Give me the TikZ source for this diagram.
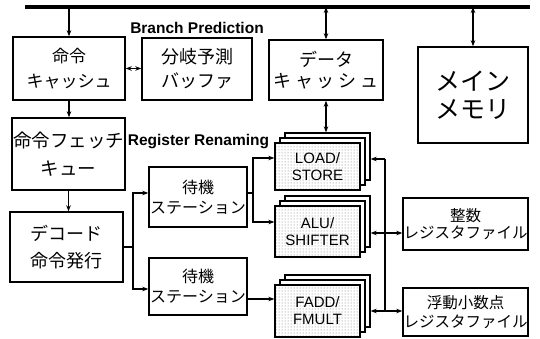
\documentclass[tikz,border=0pt]{standalone}
\usepackage{fontspec}
\setmainfont{Liberation Sans}
\newfontfamily\jp{Noto Sans CJK JP}
\usetikzlibrary{arrows.meta,patterns}
\newcommand{\fs}[2]{\fontsize{#1}{#2}\selectfont}
\begin{document}
\begin{tikzpicture}[x=1pt,y=-1pt,
  box/.style={draw,line width=1.4pt,inner sep=0pt,align=center,fill=white},
  backbox/.style={draw,line width=1.3pt,inner sep=0pt,fill=white,minimum width=85},
  frontbox/.style={draw,line width=1.3pt,inner sep=0pt,align=center,minimum width=85,
    preaction={fill=white},pattern=dots,pattern color=black!55,font=\fs{15}{17}},
  conn/.style={line width=1.1pt},
  arr/.style={conn,-{Stealth[length=6pt,width=4.5pt]}},
  dbl/.style={conn,{Stealth[length=6pt,width=4.5pt]}-{Stealth[length=6pt,width=4.5pt]}},
  lbl/.style={font=\bfseries\fs{15.5}{16},inner sep=0pt}
]
\useasboundingbox (0,0) rectangle (540,339);

% system bus
\coordinate (busL) at (25,7);
\coordinate (busR) at (530,7);
\draw[line width=4.5pt] (busL) -- (busR);

% boxes
\node[box,minimum width=112,minimum height=63,font=\jp\fs{17}{25}] (icache) at (69,68.5) {命令\\キャッシュ};
\node[box,minimum width=110,minimum height=62,font=\jp\fs{18}{24}] (bpb) at (197,69) {分岐予測\\バッファ};
\node[box,minimum width=114,minimum height=60,font=\jp\fs{18}{21}] (dcache) at (326,70) {データ\\\makebox[106pt][s]{キ\hfil ャ\hfil ッ\hfil シ\hfil ュ}};
\node[box,minimum width=110,minimum height=96,font=\jp\fs{25}{28}] (mem) at (473,95) {メイン\\メモリ};
\node[box,minimum width=113,minimum height=72,font=\jp\fs{18.5}{28}] (fetch) at (68.5,154) {命令フェッチ\\キュー};
\node[box,minimum width=113,minimum height=70,font=\jp\fs{18}{27}] (decode) at (66.5,247) {デコード\\命令発行};
\node[box,minimum width=98,minimum height=60,font=\jp\fs{16}{20}] (rs1) at (198,197) {待機\\ステーション};
\node[box,minimum width=98,minimum height=57,font=\jp\fs{16}{20}] (rs2) at (198,286.5) {待機\\ステーション};
\node[box,minimum width=125,minimum height=52,font=\jp\fs{15.5}{17}] (ireg) at (465.5,224) {整数\\レジスタファイル};
\node[box,minimum width=125,minimum height=48,font=\jp\fs{15.5}{19}] (freg) at (465.5,312) {浮動小数点\\レジスタファイル};

% stacked functional units
\node[backbox,minimum height=47] (ls2) at (327.5,156.5) {};
\node[backbox,minimum height=47] (ls1) at (322.5,161.5) {};
\node[frontbox,minimum height=47] (ls) at (317.5,166.5) {LOAD/\\STORE};

\node[backbox,minimum height=51] (alu2) at (327.5,221.5) {};
\node[backbox,minimum height=51] (alu1) at (322.5,226.5) {};
\node[frontbox,minimum height=51] (alu) at (317.5,231.5) {ALU/\\SHIFTER};

\node[backbox,minimum height=52] (fpu2) at (327.5,301) {};
\node[backbox,minimum height=52] (fpu1) at (322.5,306) {};
\node[frontbox,minimum height=52] (fpu) at (317.5,311) {FADD/\\FMULT};

% labels
\node[lbl] (bplabel) at (197,28) {Branch Prediction};
\node[lbl] (rrlabel) at (198.5,142) {Register Renaming};

% bus connections
\draw[arr] (icache.north |- busL) -- (icache.north);
\draw[dbl] (dcache.north |- busL) -- (dcache.north);
\draw[dbl] (mem.north |- busL) -- (mem.north);
\draw[dbl] (icache.east) -- (bpb.west |- icache.east);
\draw[dbl] (dcache.south) -- (dcache.south |- ls2.north);

% instruction flow
\draw[arr] (icache.south) -- (icache.south |- fetch.north);
\draw[arr] (fetch.south) -- (fetch.south |- decode.north);

\coordinate (j1) at (133,247);
\coordinate (j1a) at (133,193);
\coordinate (j1b) at (133,289);
\draw[conn] (decode.east |- j1) -- (j1);
\draw[arr] (j1) -- (j1a) -- (rs1.west |- j1a);
\draw[arr] (j1) -- (j1b) -- (rs2.west |- j1b);

\coordinate (j2) at (253,193);
\coordinate (j2a) at (253,158);
\coordinate (j2b) at (253,222);
\draw[conn] (rs1.east |- j2) -- (j2);
\draw[arr] (j2) -- (j2a) -- (ls.west |- j2a);
\draw[arr] (j2) -- (j2b) -- (alu.west |- j2b);

\coordinate (j3) at (260,299);
\draw[arr] (rs2.east |- j3) -- (fpu.west |- j3);

% result bus
\coordinate (rb1) at (385,159);
\coordinate (rb2) at (385,233);
\coordinate (rb3) at (385,311);
\draw[conn] (rb1) -- (rb3);
\draw[arr] (rb1) -- (ls2.east |- rb1);
\draw[dbl] (alu2.east |- rb2) -- (ireg.west |- rb2);
\draw[dbl] (fpu2.east |- rb3) -- (freg.west |- rb3);
\end{tikzpicture}
\end{document}
